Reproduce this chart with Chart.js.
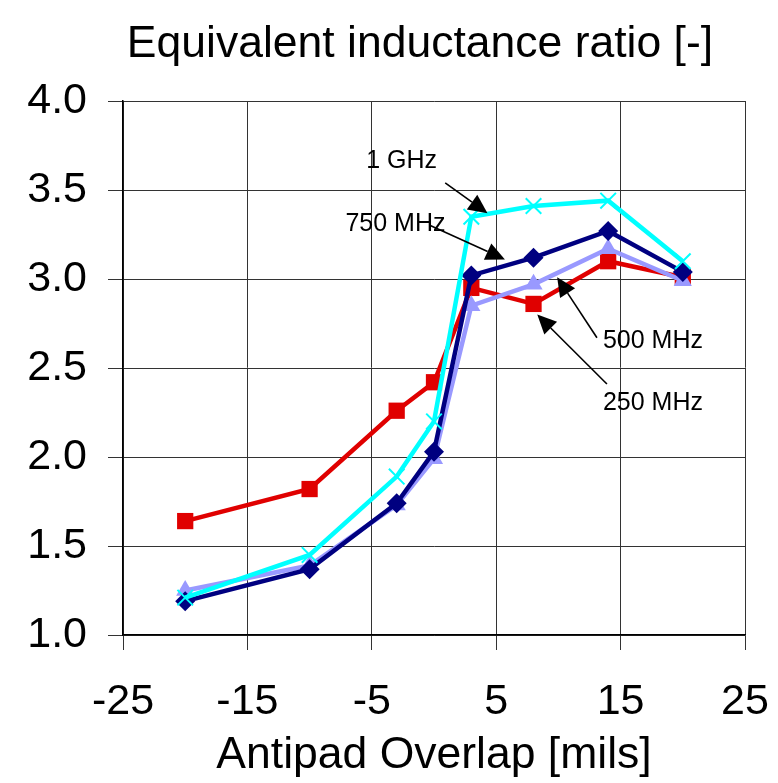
<!DOCTYPE html>
<html>
<head>
<meta charset="utf-8">
<script src="https://cdn.jsdelivr.net/npm/chart.js@4/dist/chart.umd.min.js"></script>
<style>
  html, body { margin: 0; padding: 0; background: #fff; }
  #wrap { width: 778px; height: 783px; }
</style>
</head>
<body>
<div id="wrap"><canvas id="c" width="778" height="783"></canvas></div>
<script>
// ---- data ----
const overlap = [-20, -10, -3, 0, 3, 8, 14, 20];
const ratio250MHz = [1.64, 1.82, 2.26, 2.42, 2.95, 2.86, 3.10, 3.01];
const ratio500MHz = [1.25, 1.39, 1.73, 1.99, 2.85, 2.97, 3.17, 2.99];
const ratio750MHz = [1.19, 1.37, 1.74, 2.03, 3.02, 3.12, 3.27, 3.04];
const ratio1GHz   = [1.21, 1.45, 1.89, 2.20, 3.35, 3.41, 3.44, 3.10];
const xTicks = [-25, -15, -5, 5, 15, 25];
const yTicks = [1.0, 1.5, 2.0, 2.5, 3.0, 3.5, 4.0];
const seriesNames = ['250 MHz', '500 MHz', '750 MHz', '1 GHz'];
const chartTitle = 'Equivalent inductance ratio [-]';

// callout labels (in data units)
const calloutText = ['1 GHz', '750 MHz', '500 MHz', '250 MHz'];
const calloutX = [-2.6, -3.1, 17.6, 17.6];
const calloutY = [3.66, 3.31, 2.65, 2.30];
const arrowFromX = [0.9, -0.3, 13.1, 13.9];
const arrowFromY = [3.54, 3.30, 2.67, 2.41];
const arrowToX = [4.3, 5.7, 9.9, 8.3];
const arrowToY = [3.37, 3.11, 3.01, 2.80];

const FONT = '"Liberation Sans", Arial, Helvetica, sans-serif';
const pts = ys => overlap.map((x, i) => ({ x: x, y: ys[i] }));

const frame = {
  id: 'frame',
  afterDraw(chart) {
    const { ctx } = chart;
    ctx.save();
    ctx.fillStyle = '#000';
    ctx.font = '44.5px ' + FONT;
    ctx.textAlign = 'center';
    ctx.textBaseline = 'alphabetic';
    ctx.fillText(chartTitle, 420, 57);
    ctx.restore();
  },
  afterDatasetsDraw(chart) {
    const { ctx, scales } = chart;
    const xs = scales.x, ys = scales.y;
    ctx.save();
    ctx.fillStyle = '#000';
    ctx.strokeStyle = '#000';
    ctx.font = '25px ' + FONT;
    ctx.textAlign = 'center';
    ctx.textBaseline = 'middle';
    for (let i = 0; i < calloutText.length; i++) {
      ctx.fillText(calloutText[i], xs.getPixelForValue(calloutX[i]), ys.getPixelForValue(calloutY[i]));
      const x0 = xs.getPixelForValue(arrowFromX[i]), y0 = ys.getPixelForValue(arrowFromY[i]);
      const x1 = xs.getPixelForValue(arrowToX[i]), y1 = ys.getPixelForValue(arrowToY[i]);
      const ang = Math.atan2(y1 - y0, x1 - x0);
      const L = 19, W = 9;
      const bx = x1 - L * Math.cos(ang), by = y1 - L * Math.sin(ang);
      ctx.lineWidth = 1.6;
      ctx.beginPath(); ctx.moveTo(x0, y0); ctx.lineTo(bx, by); ctx.stroke();
      ctx.beginPath();
      ctx.moveTo(x1, y1);
      ctx.lineTo(bx + W * Math.sin(ang), by - W * Math.cos(ang));
      ctx.lineTo(bx - W * Math.sin(ang), by + W * Math.cos(ang));
      ctx.closePath(); ctx.fill();
    }
    ctx.restore();
  }
};

new Chart(document.getElementById('c'), {
  type: 'line',
  data: {
    datasets: [
      { label: seriesNames[0], data: pts(ratio250MHz), borderColor: '#E00000', backgroundColor: '#E00000',
        borderWidth: 4.5, pointStyle: 'rect', pointRadius: 11.5, pointBorderWidth: 0, order: 4 },
      { label: seriesNames[1], data: pts(ratio500MHz), borderColor: '#9999FF', backgroundColor: '#9999FF',
        borderWidth: 4.5, pointStyle: 'triangle', pointRadius: 10.5, pointBorderWidth: 0, order: 3 },
      { label: seriesNames[2], data: pts(ratio750MHz), borderColor: '#000080', backgroundColor: '#000080',
        borderWidth: 4.5, pointStyle: 'rectRot', pointRadius: 10, pointBorderWidth: 0, order: 2 },
      { label: seriesNames[3], data: pts(ratio1GHz), borderColor: '#00FFFF', backgroundColor: '#00FFFF',
        borderWidth: 4.5, pointStyle: 'crossRot', pointRadius: 11, pointBorderWidth: 2, order: 1 }
    ]
  },
  options: {
    responsive: false,
    animation: false,
    layout: { padding: { left: 0, right: 33, top: 101, bottom: 0 } },
    elements: { line: { tension: 0 } },
    plugins: {
      legend: { display: false },
      tooltip: { enabled: false },
      title: { display: false }
    },
    scales: {
      x: {
        type: 'linear', min: -25, max: 25,
        afterFit: s => { s.height = 148; s.paddingLeft = 0; s.paddingRight = 0; },
        afterBuildTicks: s => { s.ticks = xTicks.map(v => ({ value: v })); },
        grid: { color: '#333', lineWidth: 1, tickLength: 15, drawTicks: true },
        border: { color: '#000', width: 1.5 },
        ticks: { color: '#000', font: { family: FONT, size: 43 }, padding: 26, maxRotation: 0,
                 callback: v => String(v) },
        title: { display: true, text: 'Antipad Overlap [mils]', color: '#000',
                 font: { family: FONT, size: 44.5 }, padding: { top: 0, bottom: 1 } }
      },
      y: {
        type: 'linear', min: 1, max: 4,
        afterFit: s => { s.width = 123; s.paddingTop = 0; s.paddingBottom = 0; },
        afterBuildTicks: s => { s.ticks = yTicks.map(v => ({ value: v })); },
        grid: { color: '#333', lineWidth: 1, tickLength: 15, drawTicks: true },
        border: { color: '#000', width: 1.5 },
        ticks: { color: '#000', font: { family: FONT, size: 43 }, padding: 21,
                 callback: v => Number(v).toFixed(1) }
      }
    }
  },
  plugins: [frame]
});
</script>
</body>
</html>
